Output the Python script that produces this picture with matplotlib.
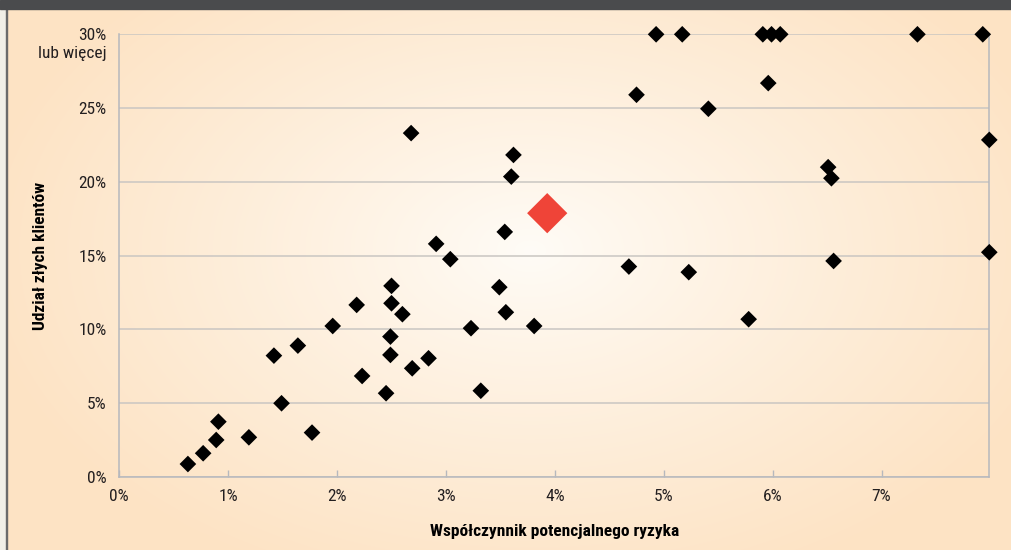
import matplotlib
matplotlib.use('Agg')
import matplotlib.pyplot as plt
from matplotlib.patches import Rectangle
import numpy as np

# potential risk factor (%) vs share of bad clients (%)
risk = [0.63, 0.77, 0.89, 0.91, 1.19, 1.49, 1.77, 1.42, 1.64, 1.96,
        2.18, 2.23, 2.45, 2.50, 2.50, 2.49, 2.49, 2.60, 2.69, 2.84,
        2.68, 2.91, 3.04, 3.23, 3.32, 3.49, 3.55, 3.54, 3.60, 3.62,
        3.81, 4.68, 4.75, 4.93, 5.17, 5.23, 5.41, 5.78, 5.91, 5.99,
        6.07, 5.96, 6.51, 6.54, 6.56, 7.33, 7.93, 7.99, 7.99]
bad = [0.86, 1.59, 2.49, 3.73, 2.67, 4.98, 2.99, 8.21, 8.89, 10.22,
       11.65, 6.83, 5.66, 12.94, 11.76, 9.50, 8.26, 11.02, 7.35, 8.03,
       23.30, 15.79, 14.75, 10.07, 5.83, 12.85, 11.15, 16.60, 20.35, 21.82,
       10.22, 14.25, 25.90, 30.0, 30.0, 13.87, 24.95, 10.68, 30.0, 30.0,
       30.0, 26.69, 20.99, 20.24, 14.63, 30.0, 30.0, 22.84, 15.22]
# highlighted bank
hl_risk = [3.93]
hl_bad = [17.87]

xticks = [0, 1, 2, 3, 4, 5, 6, 7]
xlabels = ['0%', '1%', '2%', '3%', '4%', '5%', '6%', '7%']
yticks = [0, 5, 10, 15, 20, 25, 30]
ylabels = ['0%', '5%', '10%', '15%', '20%', '25%', '30%']

fonts = ['Liberation Sans Narrow', 'Roboto Condensed', 'DejaVu Sans']
plt.rcParams['font.family'] = fonts

W, H = 1012, 550
fig = plt.figure(figsize=(W / 100, H / 100), dpi=100)

# radial cream -> peach background
bg = fig.add_axes([0, 0, 1, 1], zorder=-10)
yy, xx = np.mgrid[0:H, 0:W]
r = np.sqrt(((xx - 530) / 560.0) ** 2 + ((yy - 250) / 360.0) ** 2)
r = np.clip(r, 0, 1) ** 0.9
c0 = np.array([255, 252, 247]) / 255.0
c1 = np.array([253, 227, 196]) / 255.0
img = c0[None, None, :] * (1 - r[..., None]) + c1[None, None, :] * r[..., None]
bg.imshow(img, aspect='auto', extent=[0, W, H, 0])
bg.set_xlim(0, W)
bg.set_ylim(H, 0)
bg.axis('off')

# frame decorations
fig.patches.append(Rectangle((0, 1 - 9 / H), 1, 9 / H, transform=fig.transFigure,
                             color='#4a4b4d', zorder=5))
fig.patches.append(Rectangle((0, 0), 6 / W, 1, transform=fig.transFigure,
                             color='#f1efe7', zorder=4))
fig.patches.append(Rectangle((6 / W, 0), 1.5 / W, 1, transform=fig.transFigure,
                             color='#6a6a6a', zorder=4))

ax = fig.add_axes([119.3 / W, 1 - 476.7 / H, 870 / W, 442.4 / H])
ax.set_facecolor('none')
ax.set_xlim(0, 7.99)
ax.set_ylim(0, 30)

ax.scatter(risk, bad, marker='D', s=72, color='black', edgecolors='none',
           zorder=3, clip_on=False)
ax.scatter(hl_risk, hl_bad, marker='D', s=420, color='#ef4438',
           edgecolors='none', zorder=4, clip_on=False)

ax.set_yticks(yticks)
ax.set_yticklabels(ylabels)
ax.set_xticks(xticks)
ax.set_xticklabels(xlabels)
ax.yaxis.grid(True, color='#c9c6c2', linewidth=1.1)
ax.set_axisbelow(True)
ax.tick_params(axis='y', length=0, pad=9, labelsize=12.5, labelcolor='#231f20')
ax.tick_params(axis='x', direction='in', length=5, width=1, color='#b6b8bd',
               pad=9, labelsize=12.5, labelcolor='#231f20')

for s in ['left', 'bottom', 'right']:
    ax.spines[s].set_color('#b6b8bd')
    ax.spines[s].set_linewidth(1.1)
ax.spines['top'].set_visible(False)

ax.annotate('lub więcej', xy=(0, 30), xycoords=('axes fraction', 'data'),
            xytext=(-9, -14), textcoords='offset points', ha='right',
            va='center', fontsize=12.5, color='#231f20')

ax.set_xlabel('Współczynnik potencjalnego ryzyka', fontsize=12.5,
              fontweight='bold', color='black', labelpad=14)
ax.set_ylabel('Udział złych klientów', fontsize=12.5, fontweight='bold',
              color='black', labelpad=22)

plt.savefig('out.png', dpi=100)
